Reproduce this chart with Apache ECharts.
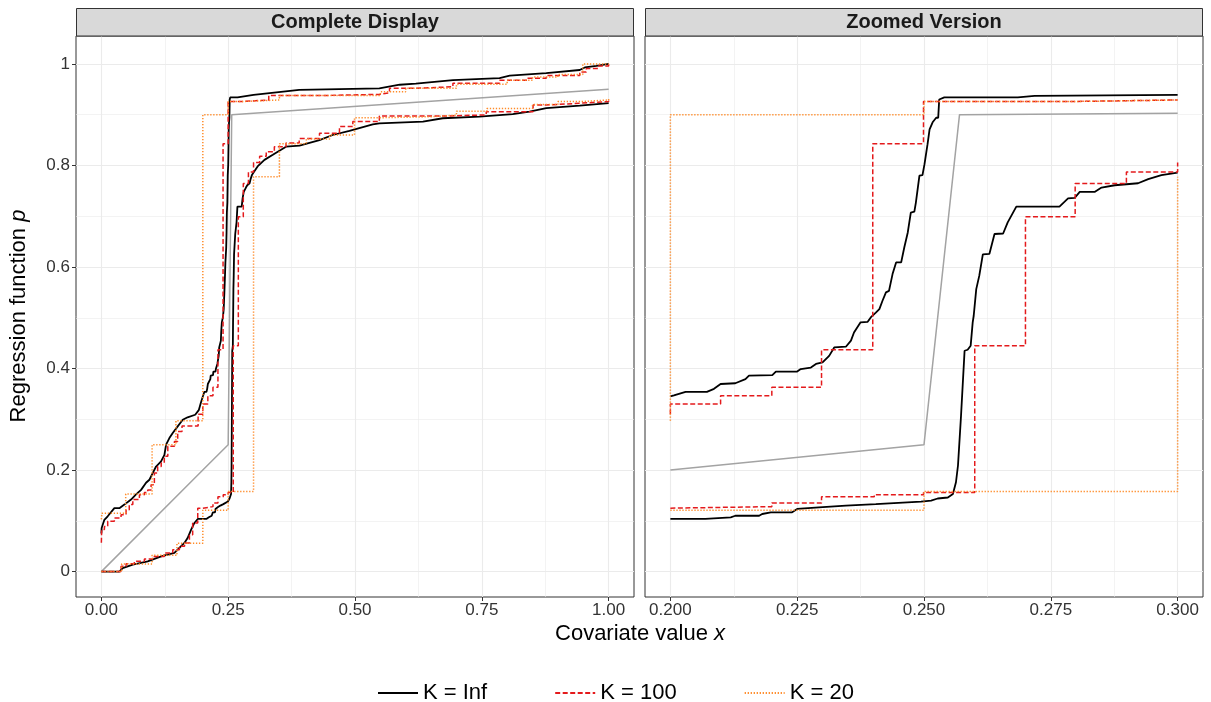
<!DOCTYPE html>
<html>
<head>
<meta charset="utf-8">
<script src="https://cdn.jsdelivr.net/npm/echarts@6/dist/echarts.min.js"></script>
<style>
  html, body { margin: 0; padding: 0; background: #fff; }
  #main { width: 1211px; height: 702px; }
</style>
</head>
<body>
<div id="main"></div>
<script>
// true regression function (grey)
var trueFn = [[0, 0], [0.2, 0.2], [0.25, 0.25], [0.257, 0.9], [0.3, 0.903], [1, 0.95]];

// K = Inf bands (black, solid)
var infUpper = [
  [0, 0.075], [0.0006, 0.086], [0.0059, 0.102], [0.0125, 0.109], [0.0256, 0.125], [0.0355, 0.125],
  [0.0454, 0.132], [0.0585, 0.142], [0.0684, 0.152], [0.0783, 0.161], [0.0881, 0.175], [0.0947, 0.181],
  [0.1012, 0.194], [0.1078, 0.207], [0.1177, 0.217], [0.1243, 0.23], [0.1276, 0.25], [0.1341, 0.263],
  [0.1407, 0.273], [0.1505, 0.286], [0.1604, 0.299], [0.17, 0.304], [0.185, 0.309], [0.192, 0.318],
  [0.196, 0.332], [0.2, 0.345], [0.2007, 0.347], [0.203, 0.354], [0.2072, 0.354], [0.2086, 0.36],
  [0.2099, 0.3695], [0.2128, 0.371], [0.2148, 0.379], [0.2155, 0.386], [0.2201, 0.387], [0.2208, 0.394],
  [0.225, 0.394], [0.2257, 0.399], [0.2277, 0.402], [0.2287, 0.409], [0.23, 0.412], [0.2313, 0.425],
  [0.2323, 0.4415], [0.2346, 0.443], [0.2356, 0.455], [0.2362, 0.471], [0.2375, 0.491], [0.2389, 0.492],
  [0.2395, 0.5006], [0.2405, 0.51], [0.2412, 0.517], [0.2418, 0.533], [0.2425, 0.55], [0.2431, 0.553],
  [0.2438, 0.586], [0.2445, 0.609], [0.2455, 0.609], [0.2461, 0.638], [0.2468, 0.668], [0.2474, 0.707],
  [0.2481, 0.709], [0.2484, 0.727], [0.2491, 0.78], [0.2497, 0.781], [0.2501, 0.8025], [0.2507, 0.842],
  [0.2511, 0.871], [0.2517, 0.885], [0.2524, 0.894], [0.2528, 0.894], [0.253, 0.93], [0.254, 0.934],
  [0.2685, 0.934], [0.2718, 0.937], [0.3, 0.939], [0.39, 0.949], [0.548, 0.952], [0.588, 0.959],
  [0.62, 0.961], [0.693, 0.968], [0.785, 0.972], [0.805, 0.977], [0.877, 0.982], [0.943, 0.988],
  [0.953, 0.993], [0.976, 0.996], [1, 1.0]
];
var infLower = [
  [0, 0], [0.0355, 0], [0.042, 0.007], [0.052, 0.0105], [0.0618, 0.0138], [0.078, 0.017], [0.0914, 0.0203],
  [0.1045, 0.025], [0.118, 0.03], [0.131, 0.0335], [0.144, 0.0368], [0.1538, 0.0466], [0.1637, 0.0565],
  [0.17, 0.066], [0.177, 0.0827], [0.1834, 0.0958], [0.19, 0.1037], [0.2, 0.1037], [0.2069, 0.1037],
  [0.2072, 0.107], [0.2119, 0.107], [0.2128, 0.11], [0.2175, 0.11], [0.2181, 0.1135], [0.2198, 0.1168],
  [0.224, 0.1168], [0.225, 0.1234], [0.2293, 0.1266], [0.2346, 0.13], [0.2405, 0.133], [0.2494, 0.138],
  [0.2514, 0.14], [0.2527, 0.144], [0.2547, 0.146], [0.2557, 0.153], [0.2563, 0.176], [0.2567, 0.209],
  [0.2573, 0.307], [0.258, 0.435], [0.2586, 0.437], [0.2592, 0.445], [0.2596, 0.491], [0.2598, 0.504],
  [0.2603, 0.5565], [0.2609, 0.583], [0.2616, 0.625], [0.2629, 0.626], [0.2639, 0.665], [0.2656, 0.666],
  [0.2665, 0.688], [0.2682, 0.719], [0.2767, 0.719], [0.2784, 0.735], [0.2797, 0.736], [0.2807, 0.748],
  [0.2837, 0.748], [0.285, 0.7565], [0.2876, 0.761], [0.2922, 0.765], [0.2942, 0.7731], [0.2968, 0.781],
  [0.3, 0.786], [0.308, 0.798], [0.3215, 0.811], [0.338, 0.821], [0.351, 0.829], [0.364, 0.837],
  [0.3905, 0.839], [0.43, 0.85], [0.456, 0.86], [0.489, 0.868], [0.535, 0.881], [0.548, 0.883],
  [0.634, 0.8864], [0.673, 0.893], [0.7456, 0.896], [0.811, 0.901], [0.844, 0.906], [0.877, 0.913],
  [0.943, 0.918], [1, 0.9226]
];

// K = 100 bands (red, dashed) - step functions, value holds from x onwards
var k100Upper = [
  [0, 0.057], [0.0006, 0.083], [0.006, 0.089], [0.0125, 0.099], [0.0256, 0.1056], [0.0388, 0.112],
  [0.0487, 0.122], [0.055, 0.132], [0.062, 0.142], [0.075, 0.1516], [0.0848, 0.156], [0.0914, 0.161],
  [0.098, 0.171], [0.1045, 0.194], [0.111, 0.207], [0.118, 0.214], [0.124, 0.227], [0.131, 0.2467],
  [0.144, 0.2565], [0.1505, 0.276], [0.159, 0.287], [0.1907, 0.31], [0.2, 0.33], [0.2099, 0.3465],
  [0.22, 0.363], [0.2298, 0.437], [0.2399, 0.843], [0.2499, 0.926], [0.2797, 0.929], [0.33, 0.938],
  [0.45, 0.94], [0.548, 0.943], [0.568, 0.952], [0.62, 0.955], [0.693, 0.962], [0.785, 0.968],
  [0.84, 0.972], [0.877, 0.977], [0.943, 0.984], [0.956, 0.991], [0.98, 0.996], [1, 1.0]
];
var k100Lower = [
  [0, 0], [0.0388, 0.0105], [0.0487, 0.0157], [0.065, 0.0203], [0.0848, 0.025], [0.101, 0.03],
  [0.124, 0.0367], [0.1407, 0.0433], [0.1538, 0.05], [0.164, 0.0565], [0.1736, 0.0728], [0.18, 0.0958],
  [0.19, 0.125], [0.2, 0.128], [0.22, 0.135], [0.2298, 0.1476], [0.2402, 0.1516], [0.2499, 0.156],
  [0.26, 0.445], [0.27, 0.699], [0.2798, 0.7644], [0.2899, 0.787], [0.3, 0.806], [0.312, 0.818],
  [0.325, 0.827], [0.341, 0.837], [0.364, 0.844], [0.39, 0.853], [0.43, 0.8636], [0.4694, 0.8767],
  [0.4957, 0.8864], [0.548, 0.8976], [0.686, 0.8996], [0.7587, 0.906], [0.851, 0.919], [0.877, 0.9226],
  [0.943, 0.926], [1, 0.9305]
];

// K = 20 bands (orange, dotted)
var k20Upper = [
  [0, 0.103], [0.001, 0.115], [0.048, 0.153], [0.1, 0.25], [0.147, 0.297], [0.2, 0.9], [0.25, 0.926],
  [0.2797, 0.929], [0.351, 0.938], [0.55, 0.945], [0.6, 0.952], [0.7, 0.96], [0.8, 0.968],
  [0.85, 0.974], [0.9, 0.979], [0.949, 1.0], [1, 1.0]
];
var k20Lower = [
  [0, 0], [0.04, 0.015], [0.1, 0.032], [0.149, 0.056], [0.2, 0.121], [0.25, 0.158], [0.3, 0.778],
  [0.351, 0.843], [0.404, 0.852], [0.45, 0.86], [0.499, 0.894], [0.548, 0.896], [0.65, 0.899],
  [0.7, 0.907], [0.76, 0.912], [0.85, 0.92], [0.9, 0.926], [0.95, 0.929], [1, 0.931]
];

// axis breaks
var yMajor = [0, 0.2, 0.4, 0.6, 0.8, 1];
var yMinor = [0.1, 0.3, 0.5, 0.7, 0.9];
var xMajorFull = [0, 0.25, 0.5, 0.75, 1];
var xMinorFull = [0.125, 0.375, 0.625, 0.875];
var xMajorZoom = [0.2, 0.225, 0.25, 0.275, 0.3];
var xMinorZoom = [0.2125, 0.2375, 0.2625, 0.2875];
var zoomRange = [0.2, 0.3];

var FONT = 'Liberation Sans, Arial, sans-serif';
var GRID_LINE = '#EBEBEB';
var DARK = '#333333';

var chart = echarts.init(document.getElementById('main'));

// keep the points inside the zoom window; a step series carries its held value to both edges
function zoomSlice(data, lo, hi, isStep, holdStart) {
  var out = [];
  var prev = null;
  for (var i = 0; i < data.length; i++) {
    var p = data[i];
    if (p[0] < lo) { prev = p; continue; }
    if (p[0] > hi) break;
    if (out.length === 0 && holdStart && prev) out.push([lo, prev[1]]);
    out.push(p);
  }
  if (isStep && out.length && out[out.length - 1][0] < hi) out.push([hi, out[out.length - 1][1]]);
  return out;
}

function majorX(gi, min, max, ticks, digits) {
  return {
    type: 'value', gridIndex: gi, min: min, max: max, position: 'bottom',
    axisLine: { show: false, onZero: false },
    axisTick: { show: true, customValues: ticks, length: 4, lineStyle: { color: DARK, width: 1 } },
    axisLabel: {
      customValues: ticks, color: '#333', fontSize: 17, fontFamily: FONT, margin: 5,
      formatter: function (v) { return v.toFixed(digits); }
    },
    splitLine: { show: true, lineStyle: { color: GRID_LINE, width: 1.1 } }
  };
}
function minorX(gi, min, max, ticks) {
  return {
    type: 'value', gridIndex: gi, min: min, max: max, position: 'bottom',
    axisLine: { show: false, onZero: false }, axisLabel: { show: false },
    axisTick: { show: false, customValues: ticks },
    splitLine: { show: true, lineStyle: { color: GRID_LINE, width: 0.6 } }
  };
}
function majorY(gi, labels) {
  return {
    type: 'value', gridIndex: gi, min: -0.05, max: 1.055, position: 'left',
    axisLine: { show: false, onZero: false },
    axisTick: { show: labels, customValues: yMajor, length: 4, lineStyle: { color: DARK, width: 1 } },
    axisLabel: {
      show: labels, customValues: yMajor, color: '#333', fontSize: 17, fontFamily: FONT, margin: 6,
      formatter: function (v) { return String(Math.round(v * 10) / 10); }
    },
    splitLine: { show: true, lineStyle: { color: GRID_LINE, width: 1.1 } }
  };
}
function minorY(gi) {
  return {
    type: 'value', gridIndex: gi, min: -0.05, max: 1.055, position: 'left',
    axisLine: { show: false, onZero: false }, axisLabel: { show: false },
    axisTick: { show: false, customValues: yMinor },
    splitLine: { show: true, lineStyle: { color: GRID_LINE, width: 0.6 } }
  };
}

var xAxes = [
  minorX(0, -0.05, 1.05, xMinorFull), majorX(0, -0.05, 1.05, xMajorFull, 2),
  minorX(1, 0.195, 0.305, xMinorZoom), majorX(1, 0.195, 0.305, xMajorZoom, 3)
];
var yAxes = [minorY(0), majorY(0, true), minorY(1), majorY(1, false)];

var styles = {
  truth: { name: 'truth', color: '#A3A3A3', dash: 'solid', width: 1.5, step: false },
  inf: { name: 'K = Inf', color: '#000000', dash: 'solid', width: 1.8, step: false },
  k100: { name: 'K = 100', color: '#E41A1C', dash: [5, 2.5], width: 1.5, step: 'end' },
  k20: { name: 'K = 20', color: '#FF8C2A', dash: [1.3, 1.7], width: 1.5, step: 'end' }
};

var layers = [
  { key: 'truth', data: trueFn, hold: false },
  { key: 'inf', data: infUpper, hold: false },
  { key: 'inf', data: infLower, hold: false },
  { key: 'k100', data: k100Upper, hold: true },
  { key: 'k100', data: k100Lower, hold: true },
  { key: 'k20', data: k20Upper, hold: true },
  { key: 'k20', data: k20Lower, hold: false }
];

var series = [];
for (var gi = 0; gi < 2; gi++) {
  for (var li = 0; li < layers.length; li++) {
    var s = styles[layers[li].key];
    var d = gi === 0 ? layers[li].data
      : zoomSlice(layers[li].data, zoomRange[0], zoomRange[1], !!s.step, layers[li].hold);
    series.push({
      type: 'line', name: s.name, data: d,
      xAxisIndex: gi * 2 + 1, yAxisIndex: gi * 2 + 1,
      step: s.step, symbol: 'none', clip: true, animation: false,
      lineStyle: { color: s.color, type: s.dash, width: s.width },
      itemStyle: { color: s.color }
    });
  }
}

function strip(x, label) {
  return [
    { type: 'rect', z: 10, shape: { x: x + 0.5, y: 8.5, width: 557, height: 27.5 },
      style: { fill: '#D9D9D9', stroke: DARK, lineWidth: 1 } },
    { type: 'text', z: 11, x: x + 279, y: 22.5,
      style: { text: label, fill: '#1A1A1A', font: 'bold 20px ' + FONT, textAlign: 'center', textVerticalAlign: 'middle' } }
  ];
}

var titles = [
  { type: 'text', x: 640, y: 634,
    style: { text: 'Covariate value {i|x}', font: '22px ' + FONT, fill: '#000', textAlign: 'center', textVerticalAlign: 'middle',
      rich: { i: { fontStyle: 'italic', fontSize: 22, fontFamily: FONT } } } },
  { type: 'text', x: 19, y: 316, rotation: Math.PI / 2,
    style: { text: 'Regression function {i|p}', font: '22px ' + FONT, fill: '#000', textAlign: 'center', textVerticalAlign: 'middle',
      rich: { i: { fontStyle: 'italic', fontSize: 22, fontFamily: FONT } } } }
];

chart.setOption({
  backgroundColor: '#ffffff',
  animation: false,
  grid: [
    { left: 76, top: 36, width: 558, height: 561, show: true, borderColor: DARK, borderWidth: 1, backgroundColor: '#fff' },
    { left: 645, top: 36, width: 558, height: 561, show: true, borderColor: DARK, borderWidth: 1, backgroundColor: '#fff' }
  ],
  xAxis: xAxes,
  yAxis: yAxes,
  series: series,
  legend: {
    data: ['K = Inf', 'K = 100', 'K = 20'],
    left: 372, top: 677,
    itemWidth: 40, itemHeight: 14, itemGap: 67,
    itemStyle: { opacity: 0 },
    textStyle: { fontSize: 22, fontFamily: FONT, color: '#000' },
    selectedMode: false
  },
  graphic: strip(76, 'Complete Display').concat(strip(645, 'Zoomed Version')).concat(titles)
});
</script>
</body>
</html>
